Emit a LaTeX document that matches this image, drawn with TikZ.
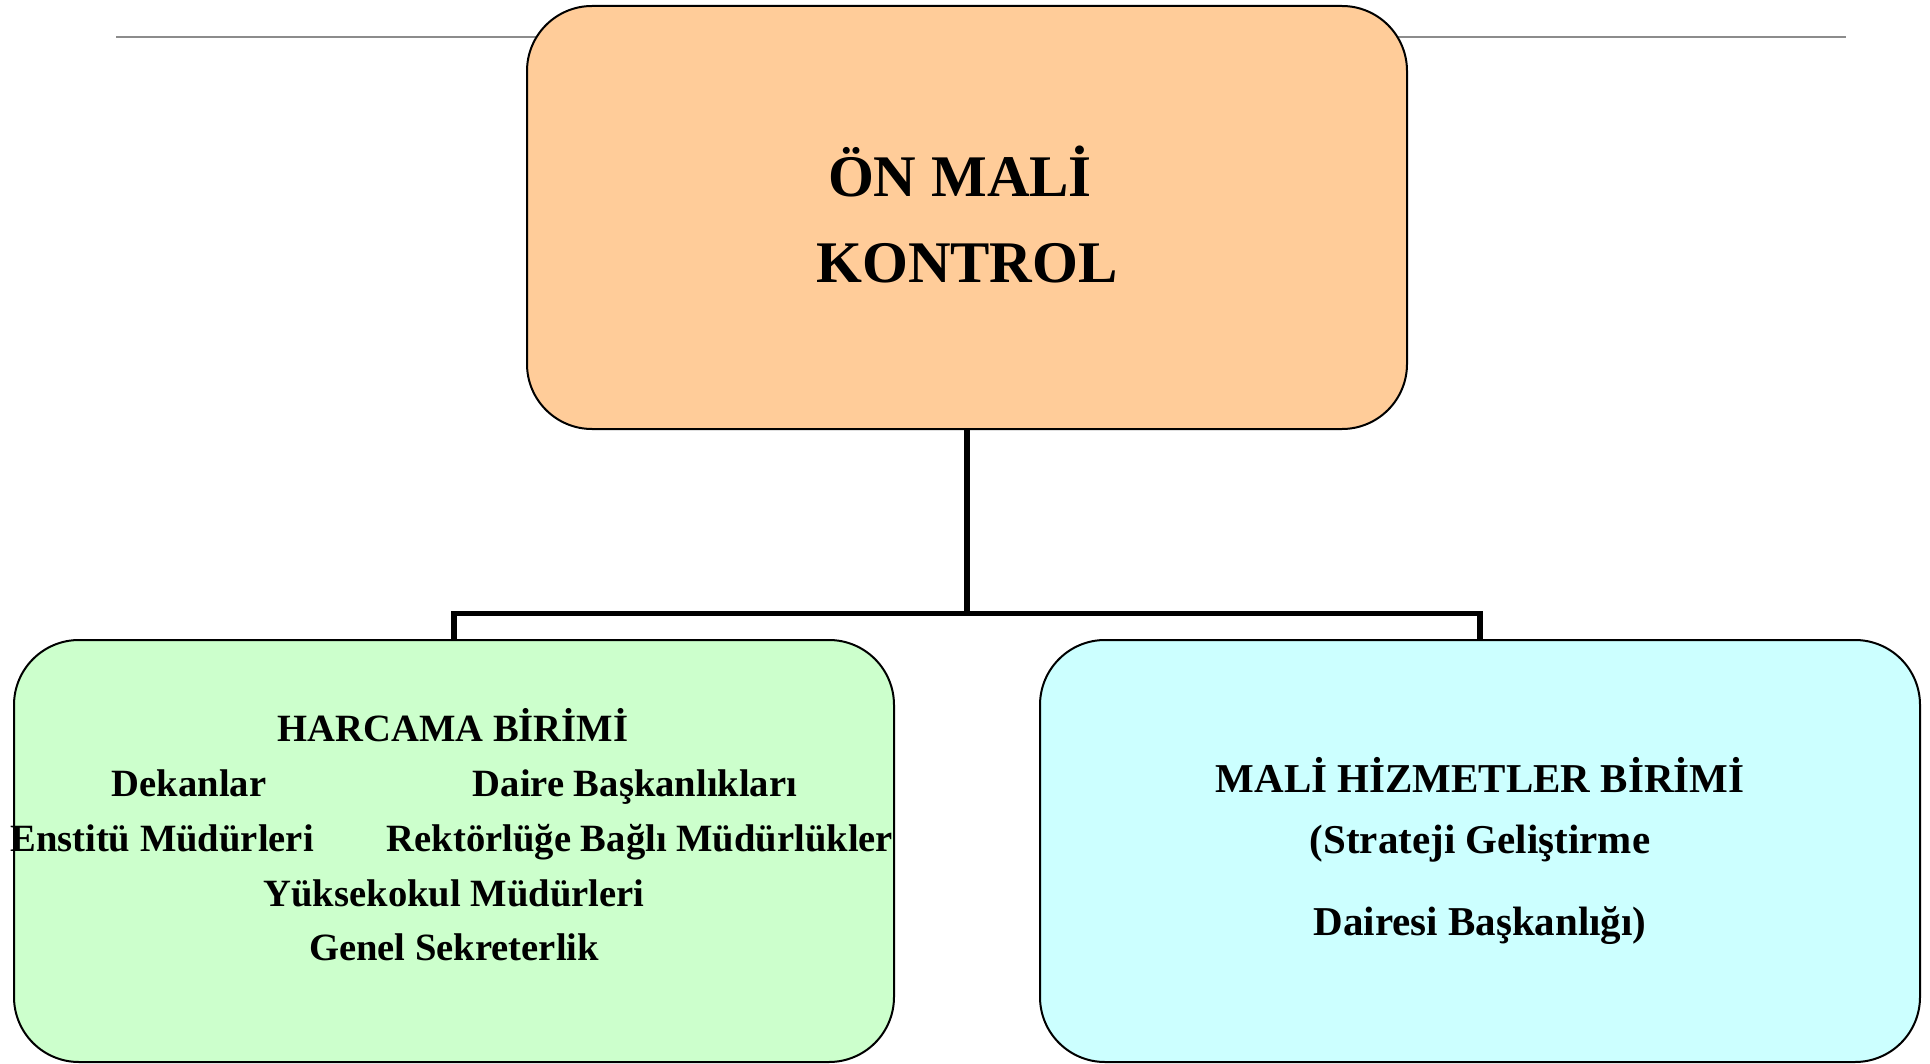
\documentclass[tikz,border=0pt]{standalone}
\usepackage{fontspec}
\setmainfont{Liberation Serif}
\definecolor{peach}{HTML}{FFCC99}
\definecolor{mint}{HTML}{CCFFCC}
\definecolor{aqua}{HTML}{CCFFFF}
\definecolor{rulegray}{HTML}{8C8C8C}
\begin{document}
\begin{tikzpicture}[x=1pt,y=-1pt,
  box/.style={draw=black,line width=2pt,rounded corners=65pt,minimum width=880pt,inner sep=0pt},
  conn/.style={draw=black,line width=5.5pt},
  bigtxt/.style={anchor=base,inner sep=0pt,font=\fontsize{59}{70}\selectfont\bfseries},
  midtxt/.style={anchor=base,inner sep=0pt,font=\fontsize{38.6}{46}\selectfont\bfseries},
  rtxt/.style={anchor=base,inner sep=0pt,font=\fontsize{41}{48}\selectfont\bfseries}]
\useasboundingbox (0,0) rectangle (1930,1064);
\fill[white] (0,0) rectangle (1930,1064);
% gray rule
\coordinate (ruleL) at (116,37);
\coordinate (ruleR) at (1846,37);
\draw[rulegray,line width=2pt] (ruleL) -- (ruleR);
% boxes
\node[box,fill=peach,minimum height=423pt] (top) at (967,217.5) {};
\node[box,fill=mint,minimum height=422pt] (left) at (454,851) {};
\node[box,fill=aqua,minimum height=422pt] (right) at (1480,851) {};
% connectors
\coordinate (j) at (967,613.5);
\draw[conn] (top.south) -- (j);
\draw[conn,line join=miter] (left.north) |- (j) -| (right.north);
% top text
\node[bigtxt] (t1) at (960,197) {ÖN MALİ};
\node[bigtxt] (t2) at (967,283) {KONTROL};
% left text
\node[midtxt] (l1) at (453,741) {HARCAMA BİRİMİ};
\node[midtxt] (l2) at (189,796) {Dekanlar};
\node[midtxt] (l3) at (635,796) {Daire Başkanlıkları};
\node[midtxt] (l4) at (162,851) {Enstitü Müdürleri};
\node[midtxt] (l5) at (640,851) {Rektörlüğe Bağlı Müdürlükler};
\node[midtxt] (l6) at (454,906) {Yüksekokul Müdürleri};
\node[midtxt] (l7) at (454,960) {Genel Sekreterlik};
% right text
\node[rtxt] (r1) at (1480,792) {MALİ HİZMETLER BİRİMİ};
\node[rtxt] (r2) at (1480,853) {(Strateji Geliştirme};
\node[rtxt] (r3) at (1480,935) {Dairesi Başkanlığı)};
\end{tikzpicture}
\end{document}
